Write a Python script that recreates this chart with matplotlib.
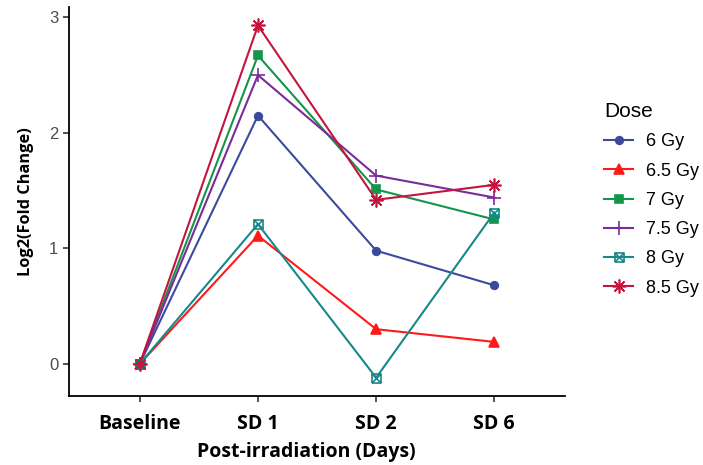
import numpy as np
import matplotlib.pyplot as plt
from matplotlib.path import Path

# data
days = ["Baseline", "SD 1", "SD 2", "SD 6"]
doses = ["6 Gy", "6.5 Gy", "7 Gy", "7.5 Gy", "8 Gy", "8.5 Gy"]
gy6 = [0, 2.15, 0.98, 0.68]
gy65 = [0, 1.11, 0.30, 0.19]
gy7 = [0, 2.67, 1.51, 1.25]
gy75 = [0, 2.50, 1.63, 1.44]
gy8 = [0, 1.21, -0.12, 1.31]
gy85 = [0, 2.93, 1.42, 1.55]
series = [gy6, gy65, gy7, gy75, gy8, gy85]

colors = ["#3c4a9e", "#ff1a1a", "#14964a", "#7a2c9a", "#16898a", "#c2163f"]

# square with an x inside (like R pch 7)
boxx = Path([(-1, -1), (1, -1), (1, 1), (-1, 1), (-1, -1),
             (-1, -1), (1, 1), (-1, 1), (1, -1)],
            [Path.MOVETO, Path.LINETO, Path.LINETO, Path.LINETO, Path.LINETO,
             Path.MOVETO, Path.LINETO, Path.MOVETO, Path.LINETO])

markers = ["o", "^", "s", "+", boxx, (8, 2, 0)]
msizes = [5.5, 6.5, 6, 10, 6.5, 10]
filled = [True, True, True, False, False, False]

fig = plt.figure(figsize=(7.03, 4.65), dpi=100)
ax = fig.add_axes([0.098, 0.148, 0.706, 0.837])

x = np.arange(len(days))
for i in range(len(doses)):
    mfc = colors[i] if filled[i] else "none"
    ax.plot(x, series[i], color=colors[i], linewidth=1.5, marker=markers[i],
            markersize=msizes[i], markerfacecolor=mfc, markeredgecolor=colors[i],
            markeredgewidth=1.2, label=doses[i])

ax.set_xlim(-0.6, 3.6)
ax.set_ylim(-0.28, 3.09)
ax.set_yticks([0, 1, 2, 3])
ax.set_xticks(x)
ax.set_xticklabels(days, fontfamily="Open Sans", fontweight="bold", fontsize=14, color="black")
for t in ax.get_yticklabels():
    t.set_fontfamily("Liberation Sans")
    t.set_fontsize(12)
    t.set_color("#4d4d4d")

ax.spines["top"].set_visible(False)
ax.spines["right"].set_visible(False)
for s in ["left", "bottom"]:
    ax.spines[s].set_linewidth(1.3)
    ax.spines[s].set_color("black")
ax.tick_params(axis="both", length=4, width=1.2, color="#333333")
ax.tick_params(axis="x", pad=9)

ax.set_xlabel("Post-irradiation (Days)", fontfamily="Open Sans", fontweight="bold",
              fontsize=14)
ax.xaxis.set_label_coords(0.478, -0.118)
ax.set_ylabel("Log2(Fold Change)", fontfamily="Open Sans", fontweight="bold",
              fontsize=11.8, labelpad=11)

leg = fig.legend(loc="upper left", bbox_to_anchor=(0.849, 0.796), frameon=False,
                 borderaxespad=0, title="Dose", handlelength=1.6, handletextpad=0.7,
                 labelspacing=0.68,
                 prop={"family": "Liberation Sans", "size": 13},
                 title_fontproperties={"family": "Liberation Sans", "size": 15})
leg._legend_box.align = "left"

fig.savefig("out.png", dpi=100)
